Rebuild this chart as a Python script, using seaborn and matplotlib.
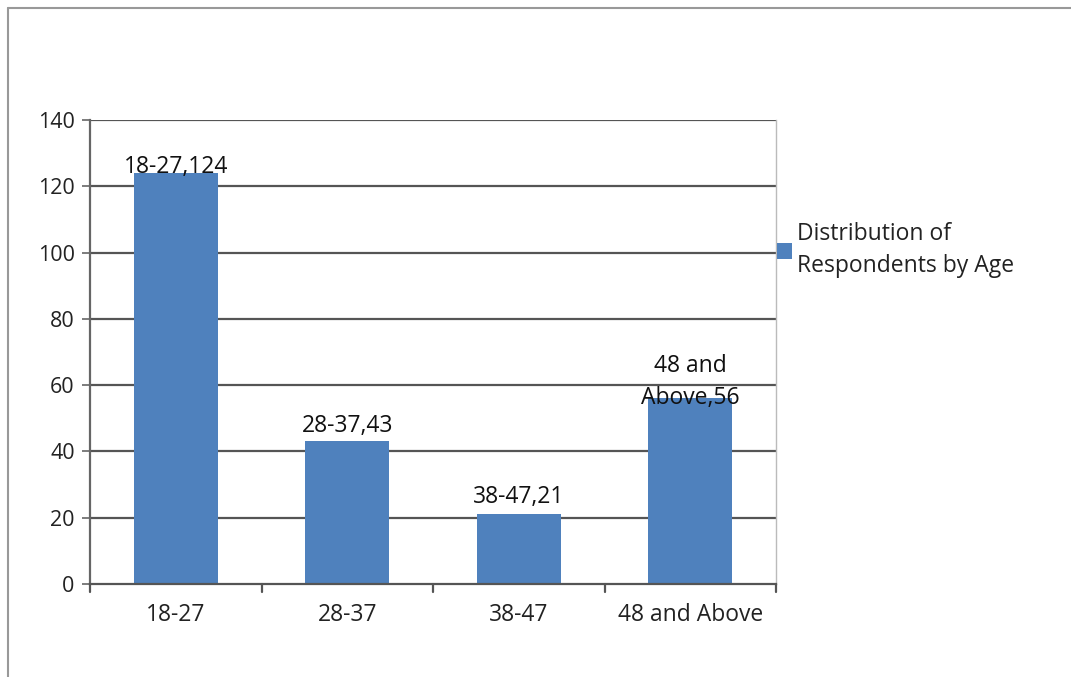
import matplotlib
matplotlib.use("Agg")
import matplotlib.pyplot as plt
import seaborn as sns
import pandas as pd
from matplotlib.lines import Line2D
from matplotlib.patches import Patch

categories = ["18-27", "28-37", "38-47", "48 and Above"]
values = [124, 43, 21, 56]
bar_labels = ["18-27,124", "28-37,43", "38-47,21", "48 and\nAbove,56"]
series_name = "Distribution of\nRespondents by Age"
yticks = [0, 20, 40, 60, 80, 100, 120, 140]

# layout only: vertical offset (points) of each bar label's baseline above the bar top
label_offsets = [0, 6.5, 8, -4]

sns.set_style("white")
plt.rcParams['font.family'] = ['Open Sans', 'DejaVu Sans']

FS = 16.5
FS_Y = 15.5
df = pd.DataFrame({"age": categories, "count": values})

fig = plt.figure(figsize=(10.71, 6.77), dpi=100)
ax = fig.add_axes([90/1071, 1-584/677, 686/1071, 464/677])

bar_color = "#4F81BD"
sns.barplot(data=df, x="age", y="count", color=bar_color, width=0.49,
            saturation=1, ax=ax, zorder=3)
for p in ax.patches:
    p.set_edgecolor("none")

ax.set_ylim(0, 140)
ax.set_xlim(-0.5, 3.5)
ax.set_yticks(yticks)
ax.set_yticklabels([str(t) for t in yticks], fontsize=FS_Y, color="#222222")
ax.set_xticks(range(len(categories)))
ax.set_xticklabels(categories, fontsize=FS, color="#222222")
ax.tick_params(axis='x', length=0, pad=14)
ax.tick_params(axis='y', length=6, width=1.2, color="#666666", pad=5, direction='out', left=True)
ax.set_xlabel("")
ax.set_ylabel("")

for t in yticks[1:]:
    ax.axhline(t, color="#555555", lw=1.6, zorder=1)

# category boundary ticks on x axis
for b in [-0.5, 0.5, 1.5, 2.5, 3.5]:
    ax.plot([b, b], [0, -2.3], color="#555555", lw=1.6, clip_on=False, zorder=4)

ax.spines["top"].set_visible(False)
ax.spines["right"].set_color("#bbbbbb")
ax.spines["right"].set_linewidth(1.0)
ax.spines["left"].set_color("#666666")
ax.spines["left"].set_linewidth(1.6)
ax.spines["bottom"].set_color("#555555")
ax.spines["bottom"].set_linewidth(1.6)
ax.spines["bottom"].set_zorder(4)

for i, (v, lab, off) in enumerate(zip(values, bar_labels, label_offsets)):
    ax.annotate(lab, xy=(i, v), xytext=(0, off), textcoords="offset points",
                ha="center", va="baseline", fontsize=FS, color="#111111",
                linespacing=1.45, zorder=5)

handle = Patch(facecolor=bar_color, edgecolor="none")
leg = fig.legend([handle], [series_name], loc="upper left",
                 bbox_to_anchor=(777/1071, 1-222/677), frameon=False,
                 fontsize=FS, handlelength=0.65, handleheight=0.65,
                 handletextpad=0.22, borderaxespad=0, borderpad=0)
for t in leg.get_texts():
    t.set_linespacing(1.45)
    t.set_color("#222222")

# outer frame lines (top and left)
fig.add_artist(Line2D([8/1071, 1], [1-8/677, 1-8/677], transform=fig.transFigure,
                      color="#999999", lw=1.5))
fig.add_artist(Line2D([8/1071, 8/1071], [0, 1-8/677], transform=fig.transFigure,
                      color="#999999", lw=1.5))

fig.savefig("out.png", dpi=100)
